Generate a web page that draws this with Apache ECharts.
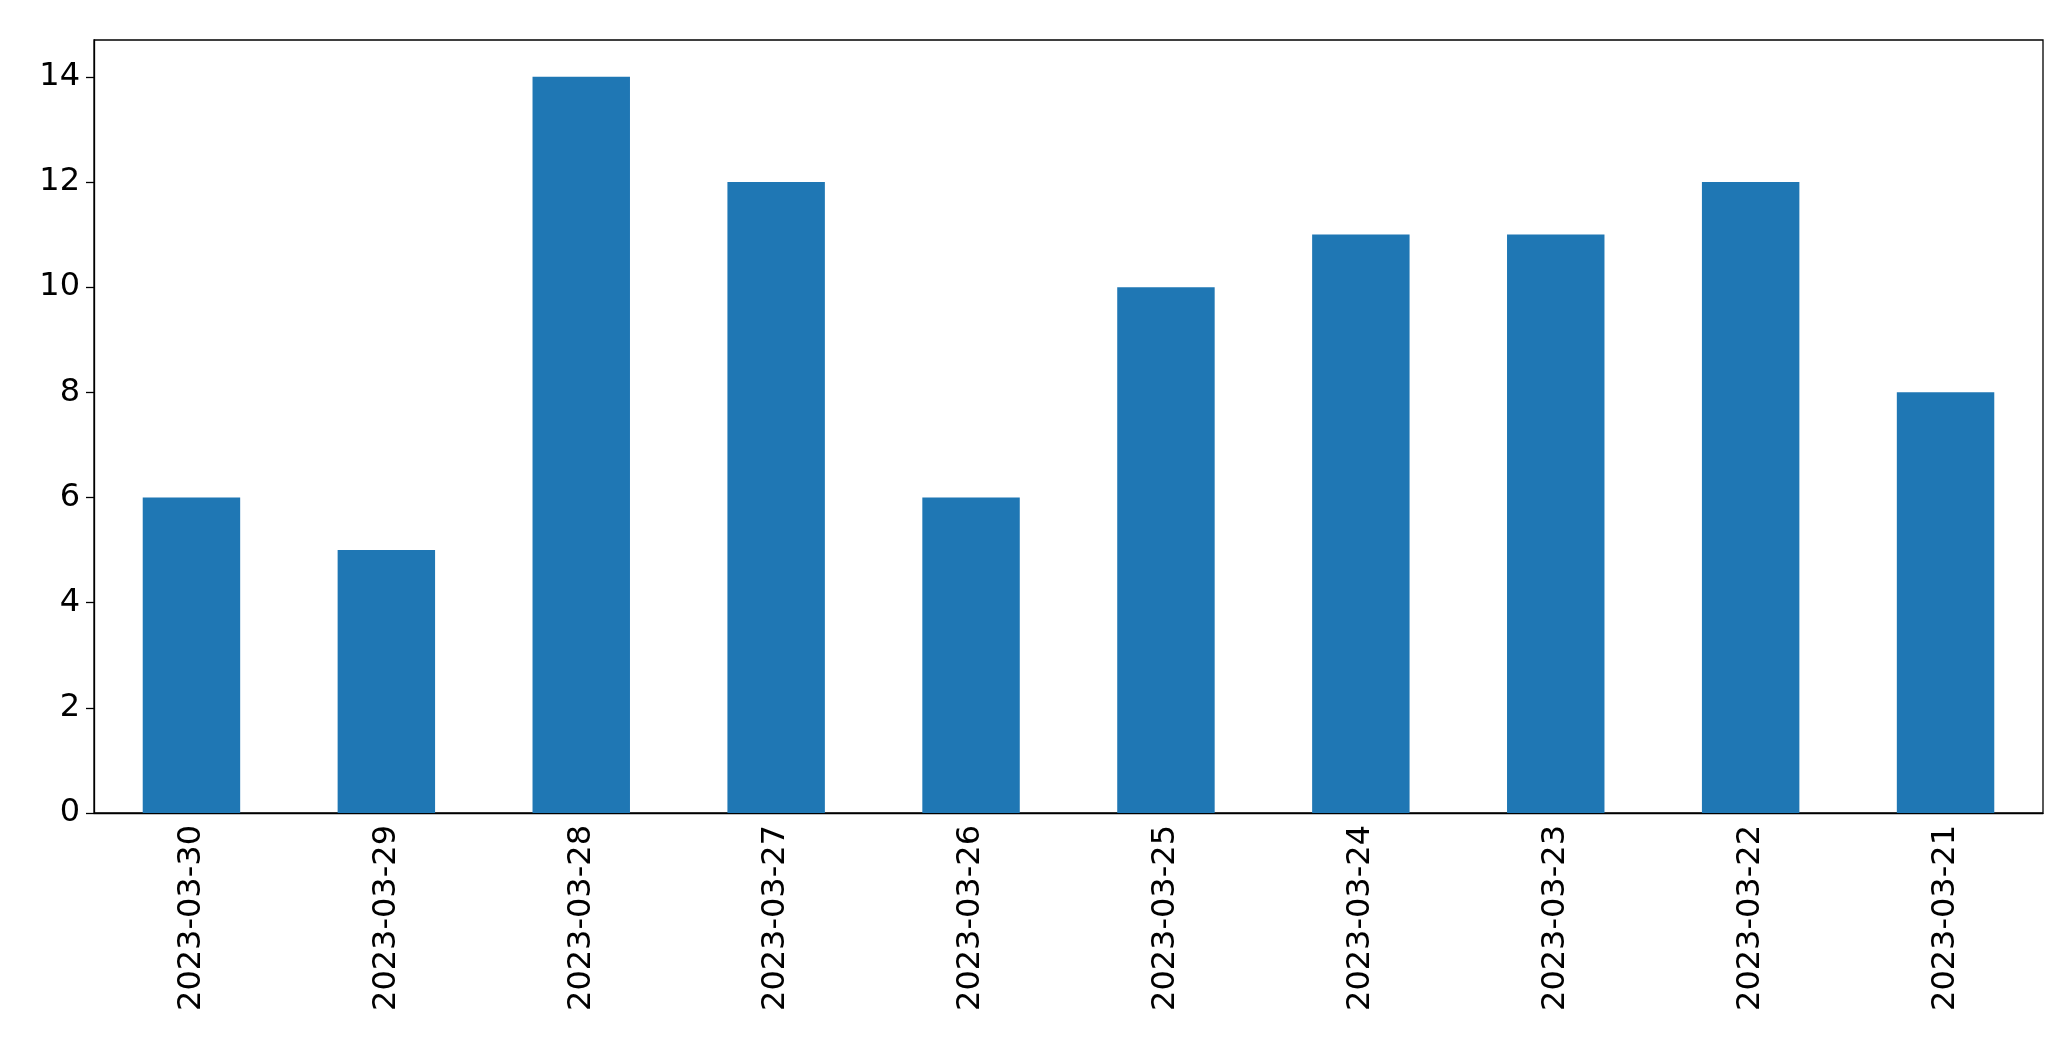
<!DOCTYPE html><html><head><meta charset="utf-8"><script src="https://cdn.jsdelivr.net/npm/echarts@6/dist/echarts.min.js"></script>
<style>html,body{margin:0;background:#fff}#c{width:2071px;height:1061px}</style></head><body><div id="c"></div><script>
const categories=['2023-03-30','2023-03-29','2023-03-28','2023-03-27','2023-03-26','2023-03-25','2023-03-24','2023-03-23','2023-03-22','2023-03-21'];
const values=[6,5,14,12,6,10,11,11,12,8];
const c=echarts.init(document.getElementById('c'));
c.setOption({animation:false,
grid:{left:94,right:28,top:40,bottom:248,show:true,borderColor:'#000',borderWidth:1.3},
xAxis:{type:'category',data:categories,axisLine:{lineStyle:{color:'#000',width:1.3}},axisTick:{alignWithLabel:true,length:8,lineStyle:{color:'#000',width:1.3}},
axisLabel:{rotate:90,color:'#000',fontSize:32,fontFamily:'DejaVu Sans',margin:12}},
yAxis:{type:'value',min:0,max:14.7,interval:2,splitLine:{show:false},axisLine:{show:true,lineStyle:{color:'#000',width:1.3}},axisTick:{show:true,length:8,lineStyle:{color:'#000',width:1.3}},
axisLabel:{color:'#000',fontSize:32,fontFamily:'DejaVu Sans',showMaxLabel:false,margin:14}},
series:[{type:'bar',data:values,barCategoryGap:'50%',itemStyle:{color:'#1f77b4'}}]});
</script></body></html>
